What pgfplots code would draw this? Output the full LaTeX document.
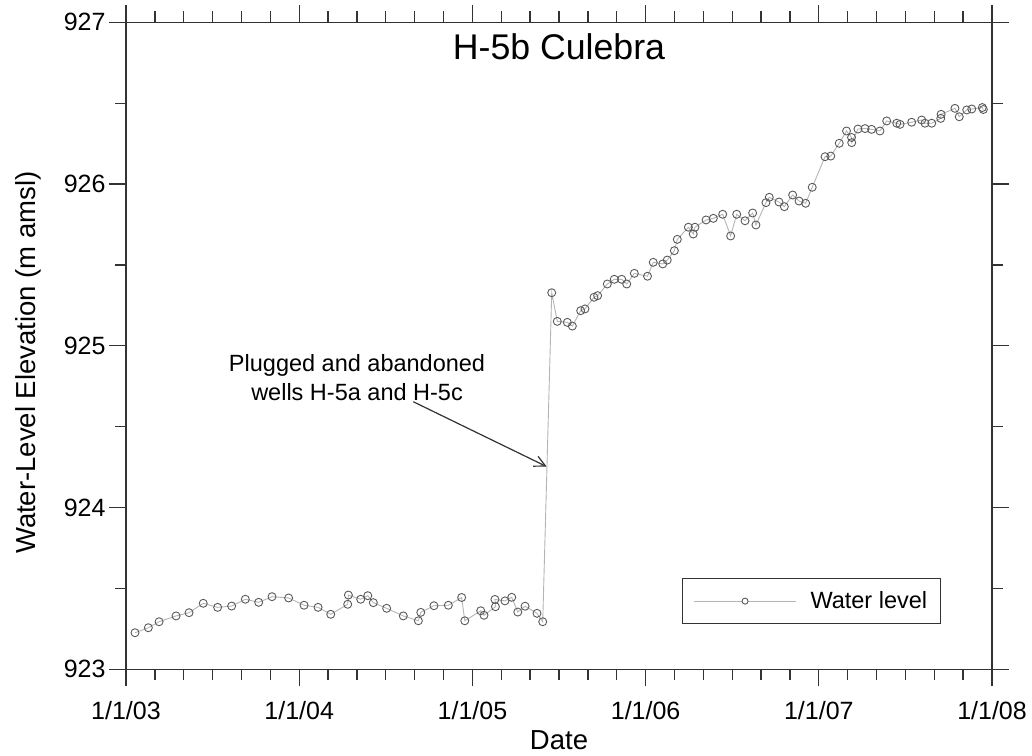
\documentclass[border=0pt]{standalone}
\usepackage{pgfplots}
\pgfplotsset{compat=1.18}
\usepackage{fontspec}
\setmainfont{Liberation Sans}
\usetikzlibrary{arrows.meta}
\definecolor{axisgray}{HTML}{333333}
\definecolor{linegray}{HTML}{B4B4B4}
\definecolor{markgray}{HTML}{5A5A5A}
\begin{document}
\begin{tikzpicture}
\useasboundingbox (-126bp,-86.7bp) rectangle (906bp,669.3bp);
\begin{axis}[
  scale only axis, width=866bp, height=647bp,
  xmin=2003, xmax=2008, ymin=923, ymax=927,
  xtick={2003,2004,2005,2006,2007,2008},
  xticklabels={1/1/03,1/1/04,1/1/05,1/1/06,1/1/07,1/1/08},
  ytick={923,924,925,926,927},
  yticklabels={923,924,925,926,927},
  minor x tick num=5, minor y tick num=1,
  tick align=outside, tick pos=both,
  major tick length=17bp, minor tick length=11bp,
  axis line style={axisgray, line width=1.3bp},
  every tick/.style={axisgray, line width=1.3bp},
  tick label style={font=\fontsize{25bp}{28bp}\selectfont, text=black},
  xticklabel style={yshift=-11.5bp},
  /pgf/number format/assume math mode=true,
  xlabel={Date}, ylabel={Water-Level Elevation (m amsl)},
  label style={font=\fontsize{27.5bp}{30bp}\selectfont},
  xlabel style={at={(axis description cs:0.5,-0.1247)}, anchor=base},
  ylabel style={at={(axis description cs:-0.11316,0.474)}, anchor=center},
  title={H-5b Culebra},
  title style={at={(axis description cs:0.5,0.934)}, anchor=base, font=\fontsize{35.7bp}{40bp}\selectfont},
  legend style={at={(axis description cs:0.6417,0.070)}, anchor=south west,
    draw=axisgray, line width=1.2bp, inner xsep=11.3bp, inner ysep=11bp,
    font=\fontsize{23.5bp}{26bp}\selectfont,
    /tikz/every odd column/.append style={column sep=12bp}},
  legend image code/.code={
    \draw[linegray, line width=0.9bp] (0bp,0bp) -- (102bp,0bp);
    \draw[markgray, fill=white, line width=0.9bp] (51bp,0bp) circle (3bp);
  },
]
\addplot[linegray, line width=0.9bp, mark=o, mark size=4bp,
  mark options={draw=markgray, fill=white, line width=0.9bp}] coordinates {
(2003.052,923.226) (2003.129,923.257) (2003.191,923.294) (2003.289,923.330)
(2003.364,923.350) (2003.446,923.408) (2003.529,923.383) (2003.610,923.391)
(2003.689,923.433) (2003.766,923.414) (2003.843,923.449) (2003.939,923.441)
(2004.028,923.396) (2004.109,923.383) (2004.182,923.340) (2004.280,923.402)
(2004.284,923.459) (2004.355,923.433) (2004.396,923.455) (2004.428,923.412)
(2004.505,923.377) (2004.601,923.330) (2004.688,923.300) (2004.702,923.352)
(2004.778,923.393) (2004.861,923.396) (2004.938,923.444) (2004.956,923.300)
(2005.048,923.362) (2005.067,923.334) (2005.133,923.387) (2005.130,923.432)
(2005.188,923.423) (2005.227,923.445) (2005.262,923.354) (2005.304,923.390)
(2005.373,923.346) (2005.406,923.294)
(2005.458,925.328) (2005.490,925.151) (2005.548,925.145) (2005.577,925.122)
(2005.625,925.217) (2005.650,925.228) (2005.702,925.300) (2005.723,925.310)
(2005.779,925.382) (2005.819,925.411) (2005.862,925.411) (2005.891,925.382)
(2005.935,925.448) (2006.011,925.430) (2006.044,925.516) (2006.099,925.506)
(2006.125,925.530) (2006.166,925.588) (2006.183,925.658) (2006.247,925.733)
(2006.275,925.691) (2006.285,925.733) (2006.349,925.778) (2006.391,925.788)
(2006.445,925.813) (2006.491,925.679) (2006.526,925.813) (2006.574,925.773)
(2006.618,925.821) (2006.637,925.747) (2006.695,925.885) (2006.714,925.918)
(2006.770,925.889) (2006.801,925.860) (2006.849,925.932) (2006.886,925.895)
(2006.924,925.881) (2006.962,925.980) (2007.036,926.169) (2007.069,926.173)
(2007.118,926.252) (2007.160,926.328) (2007.189,926.288) (2007.190,926.256)
(2007.226,926.340) (2007.267,926.343) (2007.305,926.338) (2007.353,926.328)
(2007.392,926.390) (2007.450,926.376) (2007.469,926.369) (2007.536,926.382)
(2007.594,926.396) (2007.613,926.376) (2007.652,926.376) (2007.704,926.406)
(2007.706,926.431) (2007.786,926.468) (2007.811,926.416) (2007.854,926.458)
(2007.883,926.464) (2007.944,926.473) (2007.950,926.461)
};
\addlegendentry{Water level}
\node[align=center, font=\fontsize{23.5bp}{28.5bp}\selectfont, text=black]
  at (axis cs:2004.334,924.804) {Plugged and abandoned\\wells H-5a and H-5c};
\draw[axisgray, line width=1.2bp, -{Straight Barb[length=11bp,width=11bp]}]
  (axis cs:2004.659,924.654) -- (axis cs:2005.429,924.253);
\end{axis}
\end{tikzpicture}
\end{document}
